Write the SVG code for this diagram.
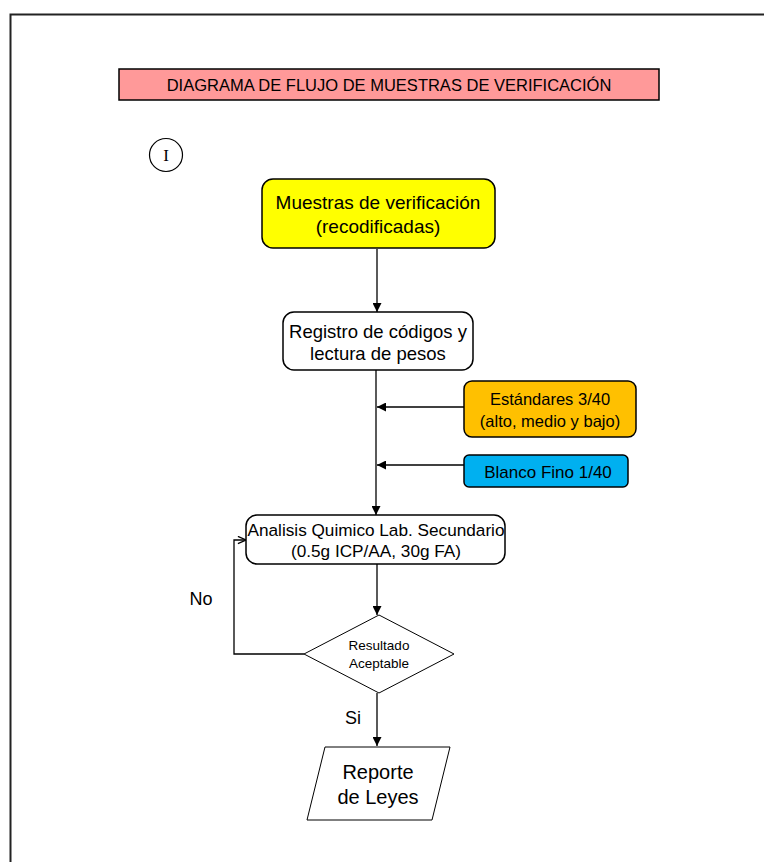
<svg xmlns="http://www.w3.org/2000/svg" width="764" height="862" viewBox="0 0 764 862">
<defs>
<style>
.t{font-family:"Liberation Sans",Arial,sans-serif;fill:#000;text-anchor:middle}
.box{stroke:#000;stroke-width:1.5}
.ln{stroke:#000;stroke-width:1.3;fill:none}
</style>
<marker id="ah" viewBox="0 0 10 10" refX="10" refY="5" markerWidth="9" markerHeight="9" markerUnits="userSpaceOnUse" orient="auto">
<path d="M0,0 L10,5 L0,10 z" fill="#000"/>
</marker>
<marker id="oa" viewBox="0 0 10 10" refX="10" refY="5" markerWidth="9" markerHeight="9" markerUnits="userSpaceOnUse" orient="auto">
<path d="M1,1 L10,5 L1,9" fill="none" stroke="#000" stroke-width="1.5"/>
</marker>
</defs>
<rect width="764" height="862" fill="#fff"/>
<path d="M10.5,870 L10.5,14.5 L770,14.5" fill="none" stroke="#222" stroke-width="2"/>
<g id="title">
<rect x="119" y="69" width="540" height="31" fill="#ff9999" class="box"/>
<text class="t" x="389" y="91" font-size="16.5">DIAGRAMA DE FLUJO DE MUESTRAS DE VERIFICACIÓN</text>
</g>
<g id="marker-I">
<circle cx="166" cy="155" r="16.5" fill="#fff" stroke="#000" stroke-width="1.2"/>
<text x="166" y="161" font-family="Liberation Serif,Times New Roman,serif" font-size="17" text-anchor="middle">I</text>
</g>
<g id="connectors">
<line class="ln" x1="377" y1="249" x2="377" y2="312" marker-end="url(#ah)"/>
<line class="ln" x1="376" y1="370" x2="376" y2="515" marker-end="url(#ah)"/>
<line class="ln" x1="464" y1="407" x2="377" y2="407" marker-end="url(#ah)"/>
<line class="ln" x1="464" y1="465" x2="377" y2="465" marker-end="url(#ah)"/>
<line class="ln" x1="377" y1="564" x2="377" y2="615" marker-end="url(#ah)"/>
<polyline class="ln" points="304,654 234,654 234,540 246,540" marker-end="url(#oa)"/>
<line class="ln" x1="377" y1="693" x2="377" y2="746" marker-end="url(#ah)"/>
<text class="t" x="201" y="605" font-size="18">No</text>
<text class="t" x="353" y="724" font-size="18">Si</text>
</g>
<g id="muestras">
<rect x="262" y="179" width="233" height="69" rx="11" fill="#ffff00" class="box"/>
<text class="t" x="378" y="209" font-size="19">Muestras de verificación</text>
<text class="t" x="378" y="233" font-size="19">(recodificadas)</text>
</g>
<g id="registro">
<rect x="283" y="312" width="190" height="58" rx="11" fill="#fff" class="box" stroke-width="1"/>
<text class="t" x="378" y="338" font-size="18.5">Registro de códigos y</text>
<text class="t" x="378" y="360" font-size="18.5">lectura de pesos</text>
</g>
<g id="estandares">
<rect x="464" y="381" width="172" height="56" rx="8" fill="#ffc000" class="box"/>
<text class="t" x="550" y="405" font-size="16.5">Estándares 3/40</text>
<text class="t" x="550" y="427" font-size="16.5">(alto, medio y bajo)</text>
</g>
<g id="blanco">
<rect x="464" y="455" width="164" height="32" rx="5" fill="#00b0f0" class="box"/>
<text class="t" x="548" y="478" font-size="17">Blanco Fino 1/40</text>
</g>
<g id="analisis">
<rect x="246" y="515" width="259" height="49" rx="11" fill="#fff" class="box" stroke-width="1"/>
<text class="t" x="376" y="536" font-size="17.2">Analisis Quimico Lab. Secundario</text>
<text class="t" x="376" y="557" font-size="17.2">(0.5g ICP/AA, 30g FA)</text>
</g>
<g id="resultado">
<polygon points="379,615 454,654 379,693 304,654" fill="#fff" stroke="#000" stroke-width="1"/>
<text class="t" x="379" y="650" font-size="13.5">Resultado</text>
<text class="t" x="379" y="668" font-size="13.5">Aceptable</text>
</g>
<g id="reporte">
<polygon points="325,747 450,747 432,820 307,820" fill="#fff" stroke="#000" stroke-width="1"/>
<text class="t" x="378" y="779" font-size="20">Reporte</text>
<text class="t" x="378" y="804" font-size="20">de Leyes</text>
</g>
</svg>
